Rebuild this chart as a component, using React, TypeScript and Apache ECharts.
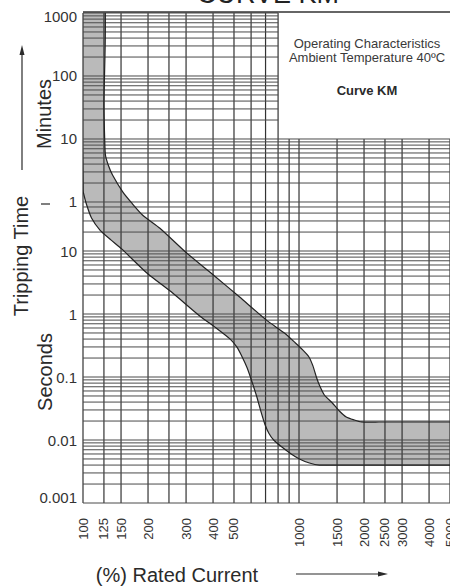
import React, { useEffect, useRef } from 'react';
import * as echarts from 'echarts';

// ---- axis values ----
const currentGrid = [100, 125, 150, 200, 250, 300, 400, 500, 600, 700, 800, 900, 1000, 1500, 2000, 2500, 3000, 4000, 5000];
const currentLabels = [100, 125, 150, 200, 300, 400, 500, 1000, 1500, 2000, 2500, 3000, 4000, 5000];
const timeTickSeconds = [60000, 6000, 600, 60, 10, 1, 0.1, 0.01, 0.001];
const timeTickLabels = ['1000', '100', '10', '1', '10', '1', '0.1', '0.01', '0.001'];
const gridMultiples = [1, 2, 3, 4, 5, 6, 7, 8, 9];
const secondDecades = [0.001, 0.01, 0.1, 1];
const secondsToMinuteLines = [10, 20, 30, 40, 50];
const minuteDecades = [1, 10, 100];
const topMinutes = 1000;
const boxCurrent = 800; // grid limit (% rated) in the minutes region
const boxTime = 600; // 10 minutes, in seconds

// ---- curve KM band (current %, time s) ----
const upperCurrent = [125, 125, 126, 127, 131, 137, 153, 168, 189, 227, 302, 400, 531, 707, 856, 960, 1040, 1110, 1160, 1203, 1245, 1310, 1427, 1537, 1655, 1803, 1942, 2350, 3000, 4000, 5000, 7000];
const upperTime = [150000, 2000, 600, 334, 230, 161, 86, 58, 37, 23, 9.3, 4.2, 1.86, 0.8, 0.499, 0.35, 0.27, 0.21, 0.15, 0.1, 0.073, 0.0518, 0.0387, 0.0289, 0.0232, 0.0208, 0.0194, 0.0193, 0.0193, 0.0193, 0.0193, 0.0193];
const lowerCurrent = [100, 100, 101, 104, 109.5, 119.8, 134.6, 151, 197.5, 260, 347, 416, 480, 515, 545, 575, 605, 636, 665, 695, 725, 765, 830, 920, 1004, 1117, 1242, 1600, 2200, 3000, 4000, 5000, 7000];
const lowerTime = [150000, 95, 77.5, 53.7, 33.4, 21.5, 15, 10.8, 4.48, 2.15, 0.93, 0.59, 0.4, 0.3, 0.21, 0.14, 0.085, 0.05, 0.029, 0.0178, 0.0128, 0.0099, 0.0078, 0.006, 0.005, 0.00431, 0.004, 0.004, 0.004, 0.004, 0.004, 0.004, 0.004];

const X_MIN = 100;
const X_MAX = 5000;
const Y_MIN = 0.001;
const Y_MAX = 60000;
const FONT = "'Liberation Sans', Arial, Helvetica, sans-serif";

const hLines: number[] = [];
secondDecades.forEach((d) => gridMultiples.forEach((k) => hLines.push(+(k * d).toPrecision(6))));
secondsToMinuteLines.forEach((s) => hLines.push(s));
minuteDecades.forEach((d) => gridMultiples.forEach((k) => hLines.push(k * d * 60)));
hLines.push(topMinutes * 60);

function bandPoints(api: any) {
  const up = upperCurrent.map((c, i) => api.coord([c, upperTime[i]]));
  const lo = lowerCurrent.map((c, i) => api.coord([c, lowerTime[i]]));
  return up.concat(lo.slice().reverse());
}

function buildOption(): any {
  const bandFill = (_p: any, api: any) => ({
    type: 'polygon',
    shape: { points: bandPoints(api), smooth: 0.2 },
    style: { fill: '#bababa', stroke: null },
  });

  const bandLines = (_p: any, api: any) => ({
    type: 'polygon',
    shape: { points: bandPoints(api), smooth: 0.2 },
    style: { fill: null, stroke: '#222', lineWidth: 1.2 },
  });

  const gridAndLabels = (_p: any, api: any) => {
    const children: any[] = [];
    currentGrid.forEach((c) => {
      const top = c <= boxCurrent ? Y_MAX : boxTime;
      const a = api.coord([c, Y_MIN]);
      const b = api.coord([c, top]);
      children.push({
        type: 'line',
        shape: { x1: a[0], y1: a[1], x2: b[0], y2: b[1] },
        style: { stroke: '#333', lineWidth: 1.2 },
      });
    });
    hLines.forEach((t) => {
      const right = t > boxTime ? boxCurrent : X_MAX;
      const a = api.coord([X_MIN, t]);
      const b = api.coord([right, t]);
      children.push({
        type: 'line',
        shape: { x1: a[0], y1: a[1], x2: b[0], y2: b[1] },
        style: { stroke: '#4a4a4a', lineWidth: 1 },
      });
    });
    const ta = api.coord([X_MIN, Y_MAX]);
    const tb = api.coord([X_MAX, Y_MAX]);
    children.push({
      type: 'line',
      shape: { x1: ta[0], y1: ta[1] - 1, x2: tb[0], y2: tb[1] - 1 },
      style: { stroke: '#333', lineWidth: 1.5 },
    });
    currentLabels.forEach((c) => {
      const p = api.coord([c, Y_MIN]);
      children.push({
        type: 'text',
        x: p[0],
        y: p[1] + 15,
        rotation: Math.PI / 2,
        style: {
          text: String(c),
          fontSize: 13,
          fontFamily: FONT,
          fill: '#333',
          align: 'right',
          verticalAlign: 'middle',
        },
      });
    });
    timeTickSeconds.forEach((t, i) => {
      const p = api.coord([X_MIN, t]);
      let dy = 0;
      if (i === 0) dy = 3;
      if (i === timeTickSeconds.length - 1) dy = -6;
      children.push({
        type: 'text',
        x: p[0] - 6,
        y: p[1] + dy,
        style: {
          text: timeTickLabels[i],
          fontSize: 15,
          fontFamily: FONT,
          fill: '#333',
          align: 'right',
          verticalAlign: 'middle',
        },
      });
    });
    return { type: 'group', children };
  };

  const textStyle = (text: string, size: number, extra: any = {}) => ({
    text,
    fontSize: size,
    fontFamily: FONT,
    fill: '#2a2a2a',
    align: 'center',
    verticalAlign: 'middle',
    ...extra,
  });

  return {
    animation: false,
    backgroundColor: '#fff',
    grid: { left: 83, right: -1, top: 13, bottom: 85 },
    xAxis: {
      type: 'log',
      logBase: 10,
      min: X_MIN,
      max: X_MAX,
      axisLine: { show: false },
      axisTick: { show: false },
      axisLabel: { show: false },
      splitLine: { show: false },
    },
    yAxis: {
      type: 'log',
      logBase: 10,
      min: Y_MIN,
      max: Y_MAX,
      axisLine: { show: false },
      axisTick: { show: false },
      axisLabel: { show: false },
      splitLine: { show: false },
    },
    series: [
      { type: 'custom', z: 1, clip: true, silent: true, data: [[X_MIN, 1]], renderItem: bandFill },
      { type: 'custom', z: 2, clip: false, silent: true, data: [[X_MIN, 1]], renderItem: gridAndLabels },
      { type: 'custom', z: 3, clip: true, silent: true, data: [[X_MIN, 1]], renderItem: bandLines },
    ],
    graphic: [
      { type: 'text', x: 268, y: -6, style: textStyle('CURVE KM', 27, { fill: '#222' }) },
      { type: 'text', x: 367, y: 43, style: textStyle('Operating Characteristics', 13, { fill: '#3a3a3a' }) },
      { type: 'text', x: 367, y: 57, style: textStyle('Ambient Temperature 40ºC', 13, { fill: '#3a3a3a' }) },
      { type: 'text', x: 367, y: 90, style: textStyle('Curve KM', 13, { fill: '#2a2a2a', fontWeight: 'bold' }) },
      { type: 'text', x: 21, y: 256, rotation: Math.PI / 2, style: textStyle('Tripping Time', 20) },
      { type: 'text', x: 44, y: 114, rotation: Math.PI / 2, style: textStyle('Minutes', 20) },
      { type: 'text', x: 45, y: 372, rotation: Math.PI / 2, style: textStyle('Seconds', 20) },
      { type: 'text', x: 177, y: 575, style: textStyle('(%) Rated Current', 20) },
      { type: 'line', shape: { x1: 22, y1: 170, x2: 22, y2: 52 }, style: { stroke: '#2a2a2a', lineWidth: 1.2 } },
      { type: 'polygon', shape: { points: [[22, 45], [19.5, 55], [24.5, 55]] }, style: { fill: '#2a2a2a' } },
      { type: 'line', shape: { x1: 41, y1: 204, x2: 50, y2: 204 }, style: { stroke: '#2a2a2a', lineWidth: 1.2 } },
      { type: 'line', shape: { x1: 296, y1: 574, x2: 380, y2: 574 }, style: { stroke: '#2a2a2a', lineWidth: 1.2 } },
      { type: 'polygon', shape: { points: [[388, 574], [378, 571.5], [378, 576.5]] }, style: { fill: '#2a2a2a' } },
    ],
  };
}

export default function App() {
  const ref = useRef<HTMLDivElement>(null);
  useEffect(() => {
    if (!ref.current) return;
    const chart = echarts.init(ref.current, null, { renderer: 'svg' });
    chart.setOption(buildOption());
    return () => {
      chart.dispose();
    };
  }, []);
  return (
    <div
      ref={ref}
      style={{ position: 'fixed', left: 0, top: 0, width: 450, height: 588, background: '#fff' }}
    />
  );
}
